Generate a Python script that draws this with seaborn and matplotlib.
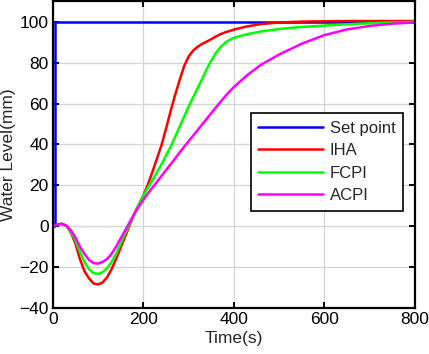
import numpy as np
import pandas as pd
import seaborn as sns
import matplotlib.pyplot as plt

# ---- data ----
t = [0, 10, 20, 30, 40, 50, 60, 70, 80, 90, 100, 110, 120, 130, 140, 150, 160,
     170, 180, 190, 200, 210, 220, 230, 240, 250, 260, 270, 280, 290, 300,
     310, 320, 330, 340, 350, 360, 370, 380, 390, 400, 430, 460, 500, 550, 600, 650, 700, 750, 800]

iha = [0, 0.8, 1.2, 0.3, -3, -8.5, -16, -22, -25.5, -28, -28.5, -27.5, -25, -21, -16, -10.5, -5,
       0.5, 6, 10.5, 15, 20.3, 26.5, 33, 39.5, 47.5, 56, 64, 71.3, 78.2, 83,
       85.9, 87.8, 89.2, 90.3, 91.5, 92.8, 93.9, 94.8, 95.5, 96.2, 97.8, 98.9, 99.7, 100.1, 100.3, 100.4, 100.4, 100.4, 100.4]

fcpi = [0, 0.8, 1.2, 0.3, -2.5, -7, -12.5, -17.5, -21, -23, -23.3, -22.5, -20.5, -17.5, -13.5, -8.5, -3.5,
        1, 6, 10.5, 14.8, 18.8, 22.5, 26.3, 30.2, 34.5, 38.7, 43.5, 48.5, 53.5, 58.5,
        63, 67.5, 72, 76.8, 81, 84.6, 87.5, 89.6, 91.1, 92.2, 94, 95.3, 96.5, 97.5, 98.2, 98.8, 99.3, 99.7, 100]

acpi = [0, 0.8, 1.2, 0.3, -2, -5.5, -10, -13.5, -16.5, -18, -18.3, -17.5, -16, -13.5, -10, -6, -2,
        2, 6, 9.5, 12.8, 16, 18.8, 21.6, 24.5, 27.4, 30.2, 33, 36, 38.8, 41.5,
        44.3, 47, 49.8, 52.5, 55.3, 58, 60.7, 63.3, 65.8, 68.1, 74, 79, 84, 89.3, 93.5, 96.3, 98, 99.1, 99.7]

set_t = [0, 6, 6, 800]
set_v = [0, 0, 100, 100]

names = ["Set point", "IHA", "FCPI", "ACPI"]
colors = ["#0000ff", "#ff0000", "#00ff00", "#ff00ff"]

# ---- style ----
sns.set_style("ticks")
plt.rcParams['font.family'] = ['Liberation Sans', 'DejaVu Sans']

fig = plt.figure(figsize=(4.29, 3.54), dpi=100)
ax = fig.add_axes([0.123, 0.13, 0.844, 0.866])

sns.lineplot(x=set_t, y=set_v, ax=ax, color=colors[0], lw=1.8,
             sort=False, estimator=None, label=names[0])
for ys, name, c in zip([iha, fcpi, acpi], names[1:], colors[1:]):
    sns.lineplot(x=t, y=ys, ax=ax, color=c, lw=1.8, sort=False,
                 estimator=None, label=name)

ax.set_xlim(0, 800)
ax.set_ylim(-40, 110)
ax.set_xticks([0, 200, 400, 600, 800])
ax.set_yticks([-40, -20, 0, 20, 40, 60, 80, 100])
ax.grid(True, color="#d4d4d4", lw=0.9)
ax.set_axisbelow(True)

ax.tick_params(direction="in", length=4, width=1.4, top=True, right=True,
               labelsize=12.5, colors="black", pad=3)
for sp in ax.spines.values():
    sp.set_visible(True)
    sp.set_linewidth(1.6)
    sp.set_color("black")

ax.set_xlabel("Time(s)", fontsize=12.5, labelpad=3)
ax.set_ylabel("Water Level(mm)", fontsize=12.5, labelpad=2)

leg = ax.legend(loc="upper left", bbox_to_anchor=(0.547, 0.636), borderaxespad=0,
                fontsize=12, handlelength=3.9, handletextpad=0.4,
                labelspacing=0.45, borderpad=0.45, fancybox=False, framealpha=1)
leg.get_frame().set_edgecolor("black")
leg.get_frame().set_linewidth(1.2)
for line in leg.get_lines():
    line.set_linewidth(1.8)

fig.savefig("out.png", dpi=100)
